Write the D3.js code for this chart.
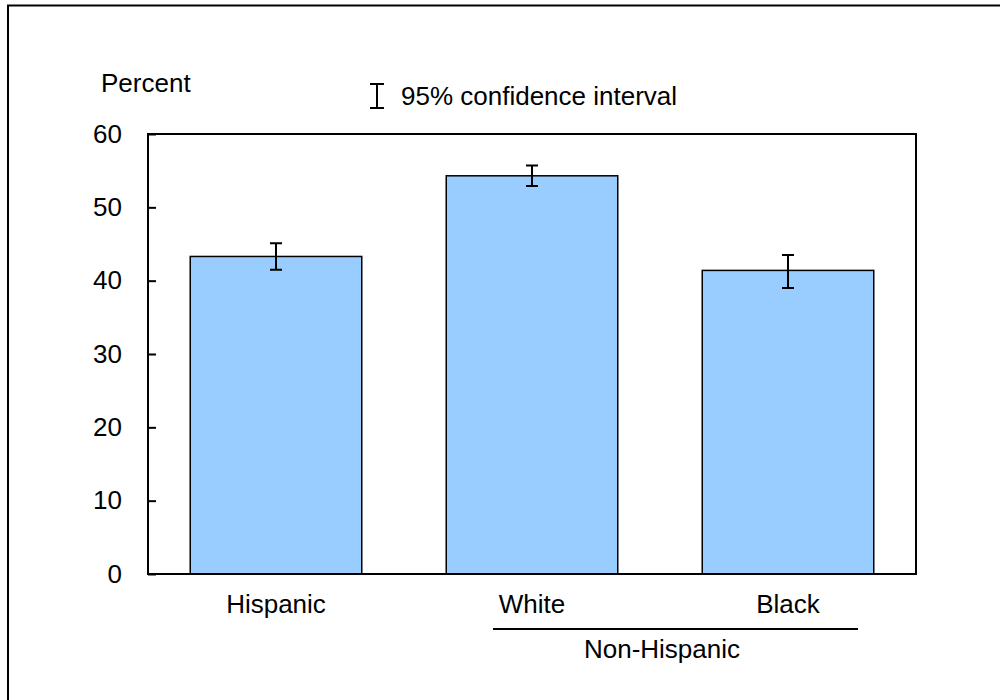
<!DOCTYPE html>
<html>
<head>
<meta charset="utf-8">
<script src="https://cdn.jsdelivr.net/npm/d3@7"></script>
<style>
  body { margin: 0; background: #fff; }
  text { font-family: Arial, "Liberation Sans", sans-serif; fill: #000; }
</style>
</head>
<body>
<div class="barchart"></div>
<script>
const categories = ["Hispanic", "White", "Black"];
const values = [43.3, 54.3, 41.4];
const ciLower = [41.5, 52.9, 39.0];
const ciUpper = [45.1, 55.7, 43.5];
const yTicks = [0, 10, 20, 30, 40, 50, 60];
const groupName = "Non-Hispanic";
const groupMembers = ["White", "Black"];

const width = 1000;
const height = 700;
const margin = { top: 134, right: 84, bottom: 126, left: 148 };
const fontSize = "26px";

const data = categories.map((c, i) => ({
  name: c,
  value: values[i],
  lo: ciLower[i],
  hi: ciUpper[i],
}));

const svg = d3
  .select(".barchart")
  .append("svg")
  .attr("width", width)
  .attr("height", height);

// outer frame (right and bottom run off the page)
svg
  .append("rect")
  .attr("x", 8)
  .attr("y", 5.5)
  .attr("width", 1010)
  .attr("height", 720)
  .attr("fill", "none")
  .attr("stroke", "#000")
  .attr("stroke-width", 2);

const x = d3
  .scaleBand()
  .domain(categories)
  .range([margin.left, width - margin.right])
  .paddingInner(0.33)
  .paddingOuter(0.165);

const y = d3
  .scaleLinear()
  .domain([0, 60])
  .range([height - margin.bottom, margin.top]);

const cx = (name) => x(name) + x.bandwidth() / 2;

// bars
svg
  .append("g")
  .selectAll("rect")
  .data(data)
  .enter()
  .append("rect")
  .attr("x", (d) => x(d.name))
  .attr("y", (d) => y(d.value))
  .attr("width", x.bandwidth())
  .attr("height", (d) => y(0) - y(d.value))
  .style("fill", "#99ccff")
  .style("stroke", "#000")
  .style("stroke-width", 1.5);

// error bars
const capW = 6;
svg
  .append("g")
  .selectAll("path")
  .data(data)
  .enter()
  .append("path")
  .attr("d", (d) => {
    const c = cx(d.name);
    return `M${c - capW},${y(d.hi)}H${c + capW}M${c},${y(d.hi)}V${y(d.lo)}M${c - capW},${y(d.lo)}H${c + capW}`;
  })
  .attr("fill", "none")
  .attr("stroke", "#000")
  .attr("stroke-width", 2);

// y axis, ticks pointing inward
const yAxis = svg
  .append("g")
  .attr("transform", `translate(${margin.left},0)`)
  .call(
    d3.axisLeft(y).tickValues(yTicks).tickSizeInner(-8).tickSizeOuter(0).tickPadding(26)
  );
yAxis.select(".domain").remove();
yAxis.selectAll(".tick line").attr("stroke", "#000").attr("stroke-width", 2);
yAxis
  .selectAll(".tick text")
  .style("font-size", fontSize)
  .style("font-family", "Arial, 'Liberation Sans', sans-serif")
  .attr("fill", "#000");

// plot frame
svg
  .append("rect")
  .attr("x", margin.left)
  .attr("y", margin.top)
  .attr("width", width - margin.left - margin.right)
  .attr("height", height - margin.top - margin.bottom)
  .attr("fill", "none")
  .attr("stroke", "#000")
  .attr("stroke-width", 2);

// category labels
svg
  .append("g")
  .selectAll("text")
  .data(categories)
  .enter()
  .append("text")
  .attr("x", (d) => cx(d))
  .attr("y", y(0) + 39)
  .attr("text-anchor", "middle")
  .style("font-size", fontSize)
  .text((d) => d);

// group bracket under White / Black
const first = cx(groupMembers[0]);
const last = cx(groupMembers[groupMembers.length - 1]);
svg
  .append("line")
  .attr("x1", first - 39)
  .attr("x2", last + 70)
  .attr("y1", y(0) + 55)
  .attr("y2", y(0) + 55)
  .attr("stroke", "#000")
  .attr("stroke-width", 2);
svg
  .append("text")
  .attr("x", (first + last) / 2 + 2)
  .attr("y", y(0) + 84)
  .attr("text-anchor", "middle")
  .style("font-size", fontSize)
  .text(groupName);

// y axis title
svg
  .append("text")
  .attr("x", 101)
  .attr("y", 92)
  .style("font-size", fontSize)
  .text("Percent");

// legend
const lg = svg.append("g").attr("transform", "translate(377,84)");
lg.append("path")
  .attr("d", "M-7,0H7M0,0V24M-7,24H7")
  .attr("fill", "none")
  .attr("stroke", "#000")
  .attr("stroke-width", 2);
lg.append("text")
  .attr("x", 24)
  .attr("y", 21)
  .style("font-size", fontSize)
  .text("95% confidence interval");
</script>
</body>
</html>
